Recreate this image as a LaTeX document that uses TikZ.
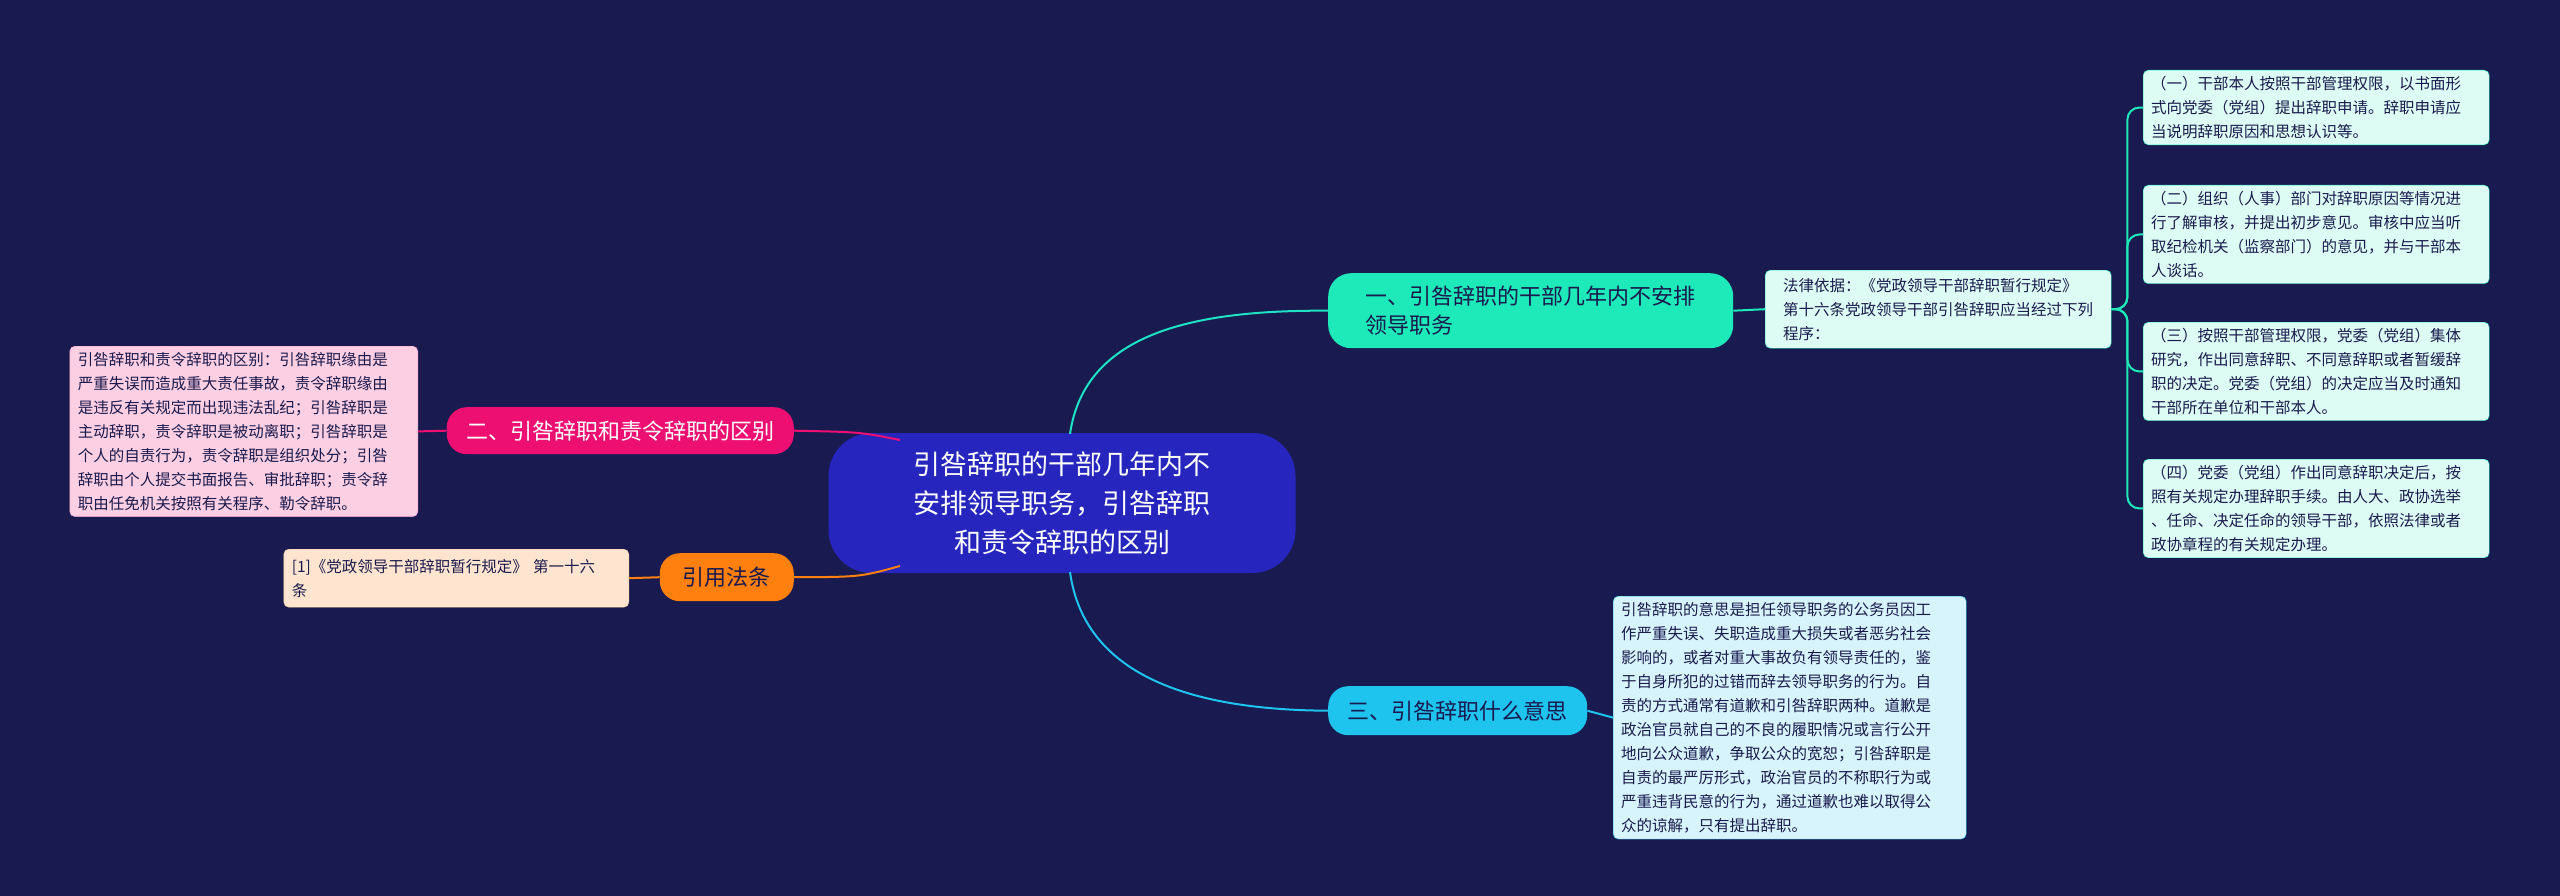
\documentclass[tikz,border=0pt]{standalone}
\usepackage{fontspec}
\setmainfont{Noto Sans CJK SC}
\definecolor{bg}{HTML}{191A4F}
\definecolor{cen}{HTML}{2626BF}
\definecolor{tg}{HTML}{1DEAB8}
\definecolor{cy}{HTML}{1EC3EE}
\definecolor{mg}{HTML}{EE0F72}
\definecolor{og}{HTML}{FF7F0F}
\definecolor{dk}{HTML}{1A1A4E}
\tikzset{
 leaf/.style={rounded corners=5pt, align=left, inner xsep=8pt, inner ysep=6pt, font=\fontsize{15.5}{24}\selectfont, text=dk, anchor=north west},
 br/.style={rounded corners=23pt, align=left, inner xsep=14pt, font=\fontsize{22}{29}\selectfont, anchor=north west},
}
\begin{document}
\begin{tikzpicture}[x=1pt,y=-1pt]
\fill[bg] (0,0) rectangle (2560,896);
\useasboundingbox (0,0) rectangle (2560,896);
% center
\node[fill=cen, rounded corners=43pt, minimum width=467pt, minimum height=140pt, align=center, text=white, font=\fontsize{27}{39}\selectfont] (c) at (1062,503) {引咎辞职的干部几年内不\\安排领导职务，引咎辞职\\和责令辞职的区别};
% branch 1
\node[br, fill=tg, text=dk, minimum width=405pt, minimum height=75pt] (b1) at (1328,273) {一、引咎辞职的干部几年内不安排\\领导职务};
\node[leaf, fill=tg!15, draw=tg, minimum width=346pt, minimum height=78pt] (law) at (1765,270) {法律依据：《党政领导干部辞职暂行规定》\\第十六条党政领导干部引咎辞职应当经过下列\\程序：};
\node[leaf, fill=tg!15, draw=tg, text width=330pt] (r1) at (2143,70) {（一）干部本人按照干部管理权限，以书面形\\式向党委（党组）提出辞职申请。辞职申请应\\当说明辞职原因和思想认识等。};
\node[leaf, fill=tg!15, draw=tg, text width=330pt] (r2) at (2143,185) {（二）组织（人事）部门对辞职原因等情况进\\行了解审核，并提出初步意见。审核中应当听\\取纪检机关（监察部门）的意见，并与干部本\\人谈话。};
\node[leaf, fill=tg!15, draw=tg, text width=330pt] (r3) at (2143,322) {（三）按照干部管理权限，党委（党组）集体\\研究，作出同意辞职、不同意辞职或者暂缓辞\\职的决定。党委（党组）的决定应当及时通知\\干部所在单位和干部本人。};
\node[leaf, fill=tg!15, draw=tg, text width=330pt] (r4) at (2143,459) {（四）党委（党组）作出同意辞职决定后，按\\照有关规定办理辞职手续。由人大、政协选举\\、任命、决定任命的领导干部，依照法律或者\\政协章程的有关规定办理。};
% branch 3
\node[br, fill=cy, text=dk, minimum width=259pt, minimum height=49pt, rounded corners=20pt] (b3) at (1328,686) {三、引咎辞职什么意思};
\node[leaf, fill=cy!18, draw=cy, text width=337pt] (t3) at (1613,596) {引咎辞职的意思是担任领导职务的公务员因工\\作严重失误、失职造成重大损失或者恶劣社会\\影响的，或者对重大事故负有领导责任的，鉴\\于自身所犯的过错而辞去领导职务的行为。自\\责的方式通常有道歉和引咎辞职两种。道歉是\\政治官员就自己的不良的履职情况或言行公开\\地向公众道歉，争取公众的宽恕；引咎辞职是\\自责的最严厉形式，政治官员的不称职行为或\\严重违背民意的行为，通过道歉也难以取得公\\众的谅解，只有提出辞职。};
% branch 2
\node[br, fill=mg, text=white, minimum width=347pt, minimum height=47pt, rounded corners=20pt, anchor=north east] (b2) at (794,407) {二、引咎辞职和责令辞职的区别};
\node[leaf, fill=mg!20, draw=mg!40, text width=332pt, anchor=north east] (t2) at (418,346) {引咎辞职和责令辞职的区别：引咎辞职缘由是\\严重失误而造成重大责任事故，责令辞职缘由\\是违反有关规定而出现违法乱纪；引咎辞职是\\主动辞职，责令辞职是被动离职；引咎辞职是\\个人的自责行为，责令辞职是组织处分；引咎\\辞职由个人提交书面报告、审批辞职；责令辞\\职由任免机关按照有关程序、勒令辞职。};
% cite
\node[br, fill=og, text=dk, minimum width=134pt, minimum height=48pt, rounded corners=20pt, anchor=north east] (b4) at (794,553) {引用法条};
\node[leaf, fill=og!20, draw=og!40, text width=329pt, minimum height=58pt, anchor=north east] (t4) at (629,549) {[1]《党政领导干部辞职暂行规定》 第一十六\\条};
% connectors
\draw[tg!80!cy, line width=2pt] (1070,434) .. controls (1085,330) and (1200,310) .. (b1.west);
\draw[cy, line width=2pt] (1070,572) .. controls (1085,680) and (1200,710) .. (b3.west);
\draw[mg, line width=2pt] (900,440) .. controls (860,432) .. (b2.east);
\draw[og, line width=2pt] (900,566) .. controls (860,577) .. (b4.east);
\draw[tg, line width=2pt] (b1.east) -- (law.west);
\foreach \r in {r1,r2,r3,r4}
  \draw[tg, line width=2pt, rounded corners=12pt] (law.east) -- ++(16,0) |- (\r.west);
\draw[cy, line width=2pt] (b3.east) -- (t3.west);
\draw[mg, line width=2pt] (b2.west) -- (t2.east);
\draw[og, line width=2pt] (b4.west) -- (t4.east);
\end{tikzpicture}
\end{document}
